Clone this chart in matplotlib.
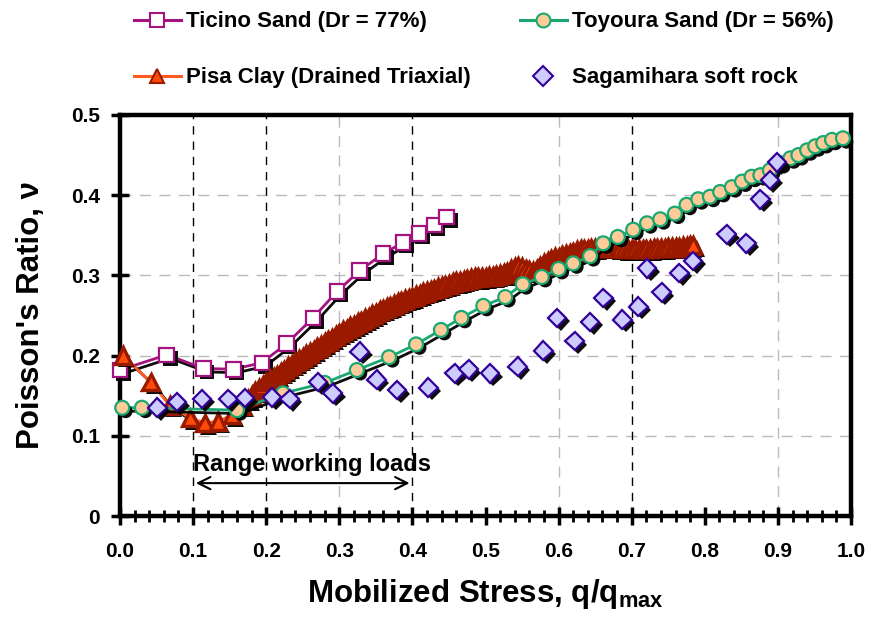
import numpy as np
import matplotlib
matplotlib.use('Agg')
import matplotlib.pyplot as plt
import matplotlib.patheffects as pe
from matplotlib.lines import Line2D

plt.rcParams['font.family'] = ['Liberation Sans', 'DejaVu Sans']
plt.rcParams['font.weight'] = 'bold'
plt.rcParams['mathtext.fontset'] = 'custom'
plt.rcParams['mathtext.rm'] = 'Liberation Sans:bold'
plt.rcParams['mathtext.it'] = 'Liberation Sans:bold'

# Ticino Sand (Dr = 77%)
ticino_x = [0.0, 0.064, 0.114, 0.155, 0.194, 0.228, 0.264, 0.297, 0.328, 0.36, 0.387, 0.409, 0.43, 0.447]
ticino_y = [0.182, 0.201, 0.184, 0.183, 0.191, 0.215, 0.247, 0.28, 0.306, 0.327, 0.341, 0.352, 0.363, 0.373]

# Toyoura Sand (Dr = 56%)
toyoura_x = [0.003, 0.03, 0.16, 0.223, 0.28, 0.324, 0.368, 0.405, 0.439, 0.467, 0.497, 0.527, 0.551,
             0.577, 0.6, 0.62, 0.643, 0.661, 0.681, 0.702, 0.721, 0.739, 0.759, 0.775, 0.791, 0.807,
             0.821, 0.837, 0.851, 0.864, 0.876, 0.889, 0.903, 0.917, 0.928, 0.94, 0.951, 0.962, 0.974, 0.989]
toyoura_y = [0.135, 0.135, 0.132, 0.153, 0.166, 0.182, 0.198, 0.214, 0.232, 0.247, 0.262, 0.273, 0.289,
             0.298, 0.308, 0.315, 0.324, 0.34, 0.348, 0.357, 0.365, 0.37, 0.377, 0.388, 0.395, 0.398,
             0.404, 0.41, 0.417, 0.423, 0.425, 0.431, 0.44, 0.446, 0.45, 0.456, 0.461, 0.465, 0.469, 0.471]

# Pisa Clay (Drained Triaxial): sparse start, then a dense run of readings
pisa_x = [0.004, 0.042, 0.068, 0.096, 0.116, 0.134, 0.153, 0.167,
          0.175, 0.180, 0.185, 0.190, 0.195, 0.200, 0.205, 0.210, 0.215, 0.220,
          0.225, 0.230, 0.235, 0.240, 0.245, 0.250, 0.255, 0.260, 0.265, 0.270,
          0.275, 0.280, 0.285, 0.290, 0.295, 0.300, 0.305, 0.310, 0.315, 0.320,
          0.325, 0.330, 0.335, 0.340, 0.345, 0.350, 0.355, 0.360, 0.365, 0.370,
          0.375, 0.380, 0.385, 0.390, 0.395, 0.400, 0.405, 0.410, 0.415, 0.420,
          0.425, 0.430, 0.435, 0.440, 0.445, 0.450, 0.455, 0.460, 0.465, 0.470,
          0.475, 0.480, 0.485, 0.490, 0.495, 0.500, 0.505, 0.510, 0.515, 0.520,
          0.525, 0.530, 0.535, 0.540, 0.545, 0.550, 0.555, 0.560, 0.565, 0.570,
          0.575, 0.580, 0.585, 0.590, 0.595, 0.600, 0.605, 0.610, 0.615, 0.620,
          0.625, 0.630, 0.635, 0.640, 0.645, 0.650, 0.655, 0.660, 0.665, 0.670,
          0.675, 0.680, 0.685, 0.690, 0.695, 0.700, 0.705, 0.710, 0.715, 0.720,
          0.725, 0.730, 0.735, 0.740, 0.745, 0.750, 0.755, 0.760, 0.765, 0.770,
          0.775, 0.780, 0.784]
pisa_y = [0.200, 0.167, 0.138, 0.122, 0.116, 0.118, 0.126, 0.138,
          0.146, 0.150, 0.155, 0.159, 0.163, 0.167, 0.170, 0.173, 0.176, 0.179,
          0.182, 0.186, 0.189, 0.192, 0.195, 0.198, 0.201, 0.204, 0.207, 0.210,
          0.213, 0.216, 0.219, 0.222, 0.225, 0.228, 0.231, 0.233, 0.236, 0.238,
          0.241, 0.243, 0.246, 0.248, 0.251, 0.253, 0.256, 0.258, 0.260, 0.262,
          0.264, 0.266, 0.268, 0.270, 0.272, 0.273, 0.275, 0.277, 0.279, 0.280,
          0.282, 0.283, 0.285, 0.286, 0.288, 0.289, 0.291, 0.292, 0.293, 0.294,
          0.295, 0.296, 0.297, 0.297, 0.298, 0.298, 0.299, 0.299, 0.300, 0.301,
          0.302, 0.304, 0.307, 0.310, 0.311, 0.310, 0.308, 0.306, 0.305, 0.307,
          0.311, 0.315, 0.318, 0.320, 0.322, 0.323, 0.325, 0.326, 0.328, 0.329,
          0.331, 0.332, 0.333, 0.333, 0.334, 0.334, 0.335, 0.335, 0.335, 0.335,
          0.335, 0.334, 0.334, 0.333, 0.333, 0.333, 0.333, 0.333, 0.333, 0.333,
          0.333, 0.334, 0.334, 0.334, 0.334, 0.335, 0.335, 0.335, 0.335, 0.336,
          0.336, 0.337, 0.338]

# Sagamihara soft rock
saga_x = [0.051, 0.078, 0.112, 0.148, 0.171, 0.208, 0.232, 0.271, 0.291, 0.328, 0.351, 0.379, 0.422,
          0.458, 0.477, 0.506, 0.544, 0.579, 0.598, 0.622, 0.643, 0.661, 0.687, 0.709, 0.721, 0.741,
          0.765, 0.784, 0.83, 0.857, 0.876, 0.889, 0.899]
saga_y = [0.135, 0.142, 0.146, 0.146, 0.147, 0.148, 0.146, 0.167, 0.153, 0.205, 0.17, 0.157, 0.16,
          0.178, 0.183, 0.178, 0.186, 0.206, 0.247, 0.218, 0.242, 0.272, 0.245, 0.261, 0.309, 0.279,
          0.303, 0.318, 0.351, 0.34, 0.395, 0.419, 0.441]

x_ticks = [0.0, 0.1, 0.2, 0.3, 0.4, 0.5, 0.6, 0.7, 0.8, 0.9, 1.0]
y_ticks = [0, 0.1, 0.2, 0.3, 0.4, 0.5]
y_tick_labels = ['0', '0.1', '0.2', '0.3', '0.4', '0.5']
dark_lines = [0.1, 0.2, 0.4, 0.7]
light_vlines = [0.3, 0.6, 0.9]
light_hlines = [0.1, 0.2, 0.3, 0.4]
work_range = (0.1, 0.4)

fig = plt.figure(figsize=(8.74, 6.23), dpi=100)
ax = fig.add_axes([120 / 874, 1 - 516 / 623, 731 / 874, 401 / 623])

line_sh = [pe.SimpleLineShadow(offset=(2.5, -2.5), shadow_color='black', alpha=0.95), pe.Normal()]
mark_sh = [pe.SimplePatchShadow(offset=(2.5, -2.5), shadow_rgbFace='black', alpha=0.95), pe.Normal()]

# grid-ish lines
for v in light_vlines:
    ax.axvline(v, color='#bbbbbb', lw=1, ls=(0, (8, 6)), zorder=1)
for h in light_hlines:
    ax.axhline(h, color='#bbbbbb', lw=1, ls=(0, (8, 6)), zorder=1)
for v in dark_lines:
    ax.axvline(v, color='black', lw=1, ls=(0, (6, 5)), zorder=1.5)

styles = [
    (ticino_x, ticino_y, '#a3127f', 's', 'white', '#a3127f', 10.5, 1.6, 3),
    (pisa_x, pisa_y, '#ff5a1f', '^', '#ff4a0a', '#9a1a00', 12, 2.4, 4),
    (toyoura_x, toyoura_y, '#1ba870', 'o', '#ffcc99', '#1ba870', 10, 1.6, 5),
]
for xs, ys, lc, mk, fc, ec, ms, mw, z in styles:
    ax.plot(xs, ys, color=lc, lw=2, zorder=z, path_effects=line_sh, clip_on=False)
    ax.plot(xs, ys, ls='none', marker=mk, ms=ms, mfc=fc, mec=ec, mew=mw,
            zorder=z + 0.1, path_effects=mark_sh, clip_on=False)
ax.plot(saga_x, saga_y, ls='none', marker='D', ms=9.5, mfc='#ccccff', mec='#330099', mew=1.6,
        zorder=6, path_effects=mark_sh, clip_on=False)

# working loads annotation
ax.text(work_range[0], 0.064, 'Range working loads', fontsize=17, fontweight='bold',
        ha='left', va='center', zorder=7)
ax.annotate('', xy=(work_range[0], 0.041), xytext=(work_range[1], 0.041),
            arrowprops=dict(arrowstyle='<->', lw=1.5, color='black', mutation_scale=22), zorder=7)

ax.set_xlim(0, 1)
ax.set_ylim(0, 0.5)
ax.set_xticks(x_ticks)
ax.set_xticklabels([f'{t:.1f}' for t in x_ticks])
ax.set_xticks(np.arange(0, 1.001, 0.02), minor=True)
ax.set_yticks(y_ticks)
ax.set_yticklabels(y_tick_labels)
ax.tick_params(axis='both', which='major', direction='inout', length=13, width=2.5, labelsize=15)
ax.tick_params(axis='x', which='major', pad=12)
ax.tick_params(axis='y', which='major', pad=8)
ax.tick_params(axis='x', which='minor', direction='inout', length=8, width=2)
for s in ax.spines.values():
    s.set_linewidth(3.2)

ax.set_xlabel(r'Mobilized Stress, q/q$_{\rm max}$', fontsize=22.5, fontweight='bold', labelpad=12)
ax.set_ylabel("Poisson's Ratio, ν", fontsize=22.5, fontweight='bold', labelpad=18)

# legend entries, placed one by one like the reference
entries = [
    ('Ticino Sand (Dr = 77%)', '#a3127f', 's', 'white', '#a3127f', '-', 134, 22),
    ('Toyoura Sand (Dr = 56%)', '#1ba870', 'o', '#ffcc99', '#1ba870', '-', 520, 22),
    ('Pisa Clay (Drained Triaxial)', '#ff5a1f', '^', '#ff4a0a', '#9a1a00', '-', 134, 78),
    ('Sagamihara soft rock', '#330099', 'D', '#ccccff', '#330099', 'none', 520, 78),
]
for lab, lc, mk, fc, ec, ls, px, py in entries:
    h = Line2D([], [], color=lc, lw=2.2, ls=ls, marker=mk, ms=10, mfc=fc, mec=ec, mew=1.5)
    fig.legend(handles=[h], labels=[lab], loc='center left', bbox_to_anchor=(px / 874, 1 - py / 623),
               frameon=False, borderpad=0, borderaxespad=0, handlelength=2.1, handletextpad=0.25,
               prop={'size': 16, 'weight': 'bold'})

fig.savefig('out.png', dpi=100)
